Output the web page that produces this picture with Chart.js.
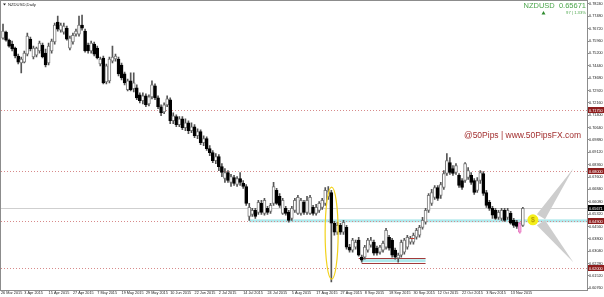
<!DOCTYPE html>
<html>
<head>
<meta charset="utf-8">
<script src="https://cdn.jsdelivr.net/npm/chart.js@4.4.0/dist/chart.umd.min.js"></script>
<style>
  html, body { margin: 0; padding: 0; background: #fff; }
  canvas { display: block; }
</style>
</head>
<body>
<canvas id="nzdChart" width="604" height="297"></canvas>
<script>
// daily NZDUSD bars, 25 Mar 2015 .. 19 Nov 2015
const opens = [
  0.7614, 0.7651, 0.7602, 0.7577, 0.7553, 0.7504, 0.7461, 0.7467, 0.7516, 0.7608,
  0.7498, 0.7510, 0.7535, 0.7571, 0.7522, 0.7461, 0.7535, 0.7590, 0.7712, 0.7663,
  0.7651, 0.7675, 0.7553, 0.7590, 0.7639, 0.7639, 0.7694, 0.7657, 0.7571, 0.7535,
  0.7577, 0.7553, 0.7455, 0.7492, 0.7345, 0.7351, 0.7473, 0.7486, 0.7486, 0.7449,
  0.7394, 0.7297, 0.7351, 0.7303, 0.7309, 0.7265, 0.7229, 0.7259, 0.7210, 0.7253,
  0.7321, 0.7247, 0.7192, 0.7161, 0.7204, 0.7235, 0.7106, 0.7131, 0.7082, 0.7118,
  0.7063, 0.7094, 0.7045, 0.7069, 0.7014, 0.7039, 0.6971, 0.6996, 0.6935, 0.6910,
  0.6861, 0.6886, 0.6824, 0.6751, 0.6788, 0.6727, 0.6757, 0.6714, 0.6751, 0.6721,
  0.6702, 0.6518, 0.6531, 0.6555, 0.6543, 0.6598, 0.6537, 0.6567, 0.6549, 0.6598,
  0.6678, 0.6641, 0.6537, 0.6567, 0.6543, 0.6506, 0.6555, 0.6537, 0.6537, 0.6604,
  0.6543, 0.6537, 0.6574, 0.6537, 0.6555, 0.6574, 0.6598, 0.6641, 0.6665, 0.6476,
  0.6421, 0.6463, 0.6421, 0.6451, 0.6329, 0.6311, 0.6329, 0.6372, 0.6268, 0.6268,
  0.6311, 0.6341, 0.6359, 0.6323, 0.6298, 0.6311, 0.6329, 0.6390, 0.6372, 0.6311,
  0.6262, 0.6280, 0.6298, 0.6329, 0.6359, 0.6359, 0.6390, 0.6402, 0.6451, 0.6482,
  0.6555, 0.6598, 0.6635, 0.6696, 0.6647, 0.6696, 0.6782, 0.6849, 0.6812, 0.6788,
  0.6770, 0.6739, 0.6739, 0.6757, 0.6770, 0.6739, 0.6678, 0.6739, 0.6782, 0.6665,
  0.6604, 0.6567, 0.6555, 0.6512, 0.6506, 0.6555, 0.6512, 0.6537, 0.6494, 0.6482,
  0.6476, 0.6463
];
const highs = [
  0.7700, 0.7657, 0.7608, 0.7596, 0.7559, 0.7516, 0.7498, 0.7535, 0.7645, 0.7620,
  0.7565, 0.7559, 0.7596, 0.7583, 0.7547, 0.7583, 0.7608, 0.7706, 0.7749, 0.7706,
  0.7706, 0.7688, 0.7626, 0.7645, 0.7669, 0.7749, 0.7755, 0.7669, 0.7583, 0.7596,
  0.7590, 0.7565, 0.7498, 0.7504, 0.7455, 0.7498, 0.7565, 0.7516, 0.7498, 0.7461,
  0.7406, 0.7363, 0.7400, 0.7400, 0.7327, 0.7277, 0.7277, 0.7271, 0.7265, 0.7351,
  0.7333, 0.7259, 0.7204, 0.7216, 0.7259, 0.7247, 0.7155, 0.7143, 0.7131, 0.7131,
  0.7118, 0.7106, 0.7094, 0.7082, 0.7057, 0.7051, 0.7014, 0.7008, 0.6953, 0.6923,
  0.6904, 0.6898, 0.6843, 0.6812, 0.6800, 0.6776, 0.6770, 0.6763, 0.6788, 0.6739,
  0.6714, 0.6598, 0.6567, 0.6567, 0.6617, 0.6617, 0.6629, 0.6580, 0.6598, 0.6727,
  0.6690, 0.6659, 0.6629, 0.6580, 0.6555, 0.6580, 0.6629, 0.6647, 0.6629, 0.6617,
  0.6641, 0.6647, 0.6586, 0.6592, 0.6610, 0.6629, 0.6696, 0.6702, 0.6678, 0.6488,
  0.6482, 0.6476, 0.6494, 0.6463, 0.6347, 0.6384, 0.6372, 0.6390, 0.6280, 0.6341,
  0.6384, 0.6390, 0.6372, 0.6335, 0.6341, 0.6366, 0.6445, 0.6402, 0.6384, 0.6323,
  0.6292, 0.6372, 0.6384, 0.6402, 0.6396, 0.6415, 0.6445, 0.6463, 0.6512, 0.6567,
  0.6659, 0.6684, 0.6708, 0.6708, 0.6727, 0.6800, 0.6904, 0.6880, 0.6831, 0.6843,
  0.6782, 0.6751, 0.6849, 0.6818, 0.6788, 0.6751, 0.6757, 0.6800, 0.6794, 0.6678,
  0.6617, 0.6580, 0.6567, 0.6555, 0.6567, 0.6567, 0.6567, 0.6549, 0.6506, 0.6494,
  0.6482, 0.6574
];
const lows = [
  0.7608, 0.7596, 0.7559, 0.7535, 0.7492, 0.7455, 0.7400, 0.7461, 0.7504, 0.7535,
  0.7486, 0.7498, 0.7522, 0.7492, 0.7437, 0.7449, 0.7522, 0.7577, 0.7657, 0.7651,
  0.7639, 0.7602, 0.7541, 0.7577, 0.7626, 0.7626, 0.7663, 0.7528, 0.7522, 0.7522,
  0.7504, 0.7486, 0.7443, 0.7333, 0.7333, 0.7339, 0.7461, 0.7473, 0.7382, 0.7357,
  0.7327, 0.7290, 0.7290, 0.7284, 0.7235, 0.7216, 0.7210, 0.7192, 0.7198, 0.7241,
  0.7235, 0.7180, 0.7137, 0.7149, 0.7192, 0.7088, 0.7088, 0.7069, 0.7069, 0.7051,
  0.7045, 0.7027, 0.7033, 0.7002, 0.6996, 0.6959, 0.6953, 0.6923, 0.6892, 0.6849,
  0.6843, 0.6800, 0.6763, 0.6727, 0.6727, 0.6702, 0.6708, 0.6702, 0.6708, 0.6690,
  0.6586, 0.6494, 0.6518, 0.6506, 0.6531, 0.6531, 0.6525, 0.6531, 0.6537, 0.6586,
  0.6592, 0.6574, 0.6531, 0.6525, 0.6482, 0.6494, 0.6543, 0.6531, 0.6525, 0.6531,
  0.6531, 0.6531, 0.6525, 0.6525, 0.6543, 0.6561, 0.6586, 0.6623, 0.6115, 0.6402,
  0.6408, 0.6408, 0.6408, 0.6317, 0.6298, 0.6298, 0.6317, 0.6274, 0.6237, 0.6255,
  0.6298, 0.6329, 0.6280, 0.6280, 0.6286, 0.6298, 0.6317, 0.6311, 0.6268, 0.6255,
  0.6237, 0.6268, 0.6286, 0.6317, 0.6347, 0.6347, 0.6378, 0.6390, 0.6439, 0.6470,
  0.6543, 0.6586, 0.6623, 0.6617, 0.6629, 0.6684, 0.6770, 0.6776, 0.6770, 0.6776,
  0.6696, 0.6684, 0.6727, 0.6745, 0.6714, 0.6653, 0.6665, 0.6721, 0.6647, 0.6574,
  0.6555, 0.6506, 0.6500, 0.6500, 0.6494, 0.6488, 0.6500, 0.6470, 0.6451, 0.6445,
  0.6415, 0.6457
];
const closes = [
  0.7657, 0.7602, 0.7565, 0.7547, 0.7504, 0.7467, 0.7486, 0.7522, 0.7626, 0.7547,
  0.7553, 0.7553, 0.7583, 0.7498, 0.7449, 0.7565, 0.7596, 0.7694, 0.7669, 0.7694,
  0.7688, 0.7608, 0.7614, 0.7632, 0.7657, 0.7694, 0.7675, 0.7535, 0.7535, 0.7583,
  0.7516, 0.7492, 0.7486, 0.7339, 0.7443, 0.7486, 0.7498, 0.7504, 0.7394, 0.7370,
  0.7339, 0.7351, 0.7297, 0.7339, 0.7247, 0.7229, 0.7259, 0.7204, 0.7253, 0.7327,
  0.7247, 0.7192, 0.7155, 0.7204, 0.7241, 0.7106, 0.7137, 0.7082, 0.7118, 0.7063,
  0.7094, 0.7045, 0.7069, 0.7014, 0.7039, 0.6971, 0.6996, 0.6935, 0.6910, 0.6861,
  0.6886, 0.6824, 0.6788, 0.6788, 0.6739, 0.6763, 0.6721, 0.6751, 0.6727, 0.6702,
  0.6598, 0.6574, 0.6555, 0.6518, 0.6604, 0.6543, 0.6617, 0.6543, 0.6586, 0.6702,
  0.6598, 0.6586, 0.6617, 0.6537, 0.6494, 0.6567, 0.6617, 0.6635, 0.6617, 0.6543,
  0.6617, 0.6635, 0.6537, 0.6574, 0.6598, 0.6617, 0.6678, 0.6671, 0.6476, 0.6421,
  0.6463, 0.6421, 0.6482, 0.6329, 0.6311, 0.6372, 0.6359, 0.6280, 0.6249, 0.6329,
  0.6372, 0.6372, 0.6292, 0.6292, 0.6329, 0.6353, 0.6433, 0.6323, 0.6280, 0.6268,
  0.6280, 0.6359, 0.6372, 0.6390, 0.6384, 0.6402, 0.6433, 0.6451, 0.6494, 0.6555,
  0.6647, 0.6665, 0.6696, 0.6629, 0.6714, 0.6782, 0.6861, 0.6788, 0.6782, 0.6831,
  0.6708, 0.6696, 0.6843, 0.6800, 0.6727, 0.6665, 0.6739, 0.6788, 0.6659, 0.6586,
  0.6567, 0.6525, 0.6506, 0.6543, 0.6555, 0.6494, 0.6555, 0.6476, 0.6463, 0.6457,
  0.6421, 0.65671
];

// axis ticks
const dateTickIdx = [-0.66, 7, 15, 23, 31, 39, 47, 55, 63, 71, 79, 87, 95, 103, 111, 119, 127, 135, 143, 151, 159, 167];
const dateTickText = ['26 Mar 2015', '3 Apr 2015', '15 Apr 2015', '27 Apr 2015', '7 May 2015', '19 May 2015',
  '29 May 2015', '10 Jun 2015', '22 Jun 2015', '2 Jul 2015', '14 Jul 2015', '24 Jul 2015', '5 Aug 2015',
  '17 Aug 2015', '27 Aug 2015', '8 Sep 2015', '18 Sep 2015', '30 Sep 2015', '12 Oct 2015', '22 Oct 2015',
  '3 Nov 2015', '13 Nov 2015'];
const priceTicks = [0.78240, 0.77480, 0.76720, 0.75960, 0.75200, 0.74440, 0.73680, 0.72920, 0.72160, 0.71400,
  0.70640, 0.69880, 0.69120, 0.68360, 0.67600, 0.66840, 0.66080, 0.65320, 0.64560, 0.63800, 0.63040, 0.62280,
  0.61520, 0.60760];

// drawn objects on the chart
const levelLines = [0.71750, 0.68000, 0.64900, 0.62000];
const lastPrice = 0.65671;
const supportBand = { start: 81, lo: 0.6482, hi: 0.6500 };
const lowZoneIdx = [117, 139];
const lowZoneLines = [0.6260, 0.6229];
const lowZoneBand = [0.6237, 0.6255];
const redDash = [134, 135.3, 0.6384];
const ellipseAt = { idx: 108.1, lo: 0.6132, hi: 0.6698 };
const dotAt = [174.3, 0.6497];
const wedgeUp = [[175.6, 0.6531], [178.3, 0.6500], [187.6, 0.6812]];
const wedgeDown = [[175.6, 0.6463], [178.3, 0.6494], [187.6, 0.6237]];
const pinkBar = 170;

Chart.defaults.font.family = "'Liberation Sans', Arial, sans-serif";

const bodyData = opens.map((o, i) => ({ x: i, y: [o, closes[i]] }));
const wickData = lows.map((l, i) => ({ x: i, y: [l, highs[i]] }));

function isBull(i) {
    return closes[i] >= opens[i];
}

const overlayPlugin = {
    id: 'overlayPlugin',
    beforeDatasetsDraw(chart) {
        const { ctx, chartArea: { left, right, top, bottom }, scales: { x, y } } = chart;
        ctx.save();

        // frame
        ctx.strokeStyle = '#8c8c8c';
        ctx.lineWidth = 1;
        ctx.strokeRect(0.5, 0.5, right, bottom);

        // support band
        const by1 = y.getPixelForValue(supportBand.hi);
        const by2 = y.getPixelForValue(supportBand.lo);
        ctx.fillStyle = 'rgba(110, 215, 220, 0.55)';
        ctx.fillRect(x.getPixelForValue(supportBand.start), by1, right - x.getPixelForValue(supportBand.start), by2 - by1);

        // lower zone
        const zx1 = x.getPixelForValue(lowZoneIdx[0]);
        const zx2 = x.getPixelForValue(lowZoneIdx[1]);
        const zb1 = y.getPixelForValue(lowZoneBand[1]);
        const zb2 = y.getPixelForValue(lowZoneBand[0]);
        ctx.fillRect(zx1 + 3, zb1, zx2 - zx1 - 3, zb2 - zb1);
        ctx.strokeStyle = '#a33a3a';
        lowZoneLines.forEach((v, k) => {
            const py = Math.round(y.getPixelForValue(v)) + 0.5;
            ctx.beginPath();
            ctx.moveTo(zx1 + (k ? 3 : 0), py);
            ctx.lineTo(zx2, py);
            ctx.stroke();
        });

        // bid line
        ctx.strokeStyle = '#cfcfcf';
        const bidY = Math.round(y.getPixelForValue(lastPrice)) + 0.5;
        ctx.beginPath();
        ctx.moveTo(left, bidY);
        ctx.lineTo(right, bidY);
        ctx.stroke();

        // dotted levels
        ctx.strokeStyle = '#d78a8a';
        ctx.setLineDash([1, 2]);
        levelLines.forEach(v => {
            const py = Math.round(y.getPixelForValue(v)) + 0.5;
            ctx.beginPath();
            ctx.moveTo(left, py);
            ctx.lineTo(right, py);
            ctx.stroke();
        });
        ctx.setLineDash([]);
        ctx.restore();
    },
    afterDatasetsDraw(chart) {
        const { ctx, chartArea: { left, right, top, bottom }, scales: { x, y } } = chart;
        ctx.save();

        // small red mark
        ctx.strokeStyle = '#c0392b';
        const ry = Math.round(y.getPixelForValue(redDash[2])) + 0.5;
        ctx.beginPath();
        ctx.moveTo(x.getPixelForValue(redDash[0]), ry);
        ctx.lineTo(x.getPixelForValue(redDash[1]), ry);
        ctx.stroke();

        // ellipse round the 24 Aug spike
        const ey1 = y.getPixelForValue(ellipseAt.hi);
        const ey2 = y.getPixelForValue(ellipseAt.lo);
        ctx.strokeStyle = '#f2d21b';
        ctx.lineWidth = 1.2;
        ctx.beginPath();
        ctx.ellipse(x.getPixelForValue(ellipseAt.idx), (ey1 + ey2) / 2, 6.5, (ey2 - ey1) / 2, 0, 0, Math.PI * 2);
        ctx.stroke();

        // grey chevron
        ctx.fillStyle = '#cdcdcd';
        [wedgeUp, wedgeDown].forEach(pts => {
            ctx.beginPath();
            pts.forEach((p, k) => {
                const px = x.getPixelForValue(p[0]);
                const py = y.getPixelForValue(p[1]);
                if (k === 0) ctx.moveTo(px, py); else ctx.lineTo(px, py);
            });
            ctx.closePath();
            ctx.fill();
        });

        // yellow marker
        const dx = x.getPixelForValue(dotAt[0]);
        const dy = y.getPixelForValue(dotAt[1]);
        ctx.fillStyle = '#f4ee1a';
        ctx.beginPath();
        ctx.arc(dx, dy, 5.5, 0, Math.PI * 2);
        ctx.fill();
        ctx.fillStyle = '#b8a000';
        ctx.font = 'bold 7px Arial';
        ctx.textAlign = 'center';
        ctx.textBaseline = 'middle';
        ctx.fillText('$', dx, dy + 0.5);

        // watermark
        ctx.fillStyle = '#a33030';
        ctx.font = '8.5px Arial';
        ctx.textAlign = 'left';
        ctx.fillText('@50Pips | www.50PipsFX.com', 464, 135.5);

        // title
        ctx.fillStyle = '#222';
        ctx.beginPath();
        ctx.moveTo(3, 3.5);
        ctx.lineTo(6, 3.5);
        ctx.lineTo(4.5, 5.5);
        ctx.closePath();
        ctx.fill();
        ctx.font = '4.2px Arial';
        ctx.fillText('NZDUSD,Daily', 8, 5);

        // symbol box top right
        ctx.fillStyle = '#4da64d';
        ctx.font = '7.5px Arial';
        ctx.textAlign = 'right';
        ctx.fillText('NZDUSD  ' + lastPrice.toFixed(5), 586, 5.5);
        ctx.font = '4.2px Arial';
        ctx.fillText('97 | 1.33%', 586, 13);
        ctx.fillStyle = '#2e8b2e';
        ctx.beginPath();
        ctx.moveTo(541.5, 14.5);
        ctx.lineTo(545.5, 14.5);
        ctx.lineTo(543.5, 11);
        ctx.closePath();
        ctx.fill();
        ctx.restore();
    },
    afterDraw(chart) {
        const { ctx, chartArea: { right }, scales: { y } } = chart;
        ctx.save();
        ctx.font = '3.8px Arial';
        ctx.textBaseline = 'middle';
        ctx.textAlign = 'left';
        const tag = (v, fill) => {
            const py = Math.round(y.getPixelForValue(v));
            ctx.fillStyle = fill;
            ctx.fillRect(right + 1, py - 3, 604 - right - 1, 6);
            ctx.fillStyle = '#fff';
            ctx.fillText(v.toFixed(5), right + 2, py + 0.5);
        };
        levelLines.forEach(v => tag(v, '#8e1d1d'));
        tag(lastPrice, '#000');
        ctx.restore();
    }
};

const chart = new Chart(document.getElementById('nzdChart'), {
    type: 'bar',
    data: {
        datasets: [{
            label: 'body',
            data: bodyData,
            order: 0,
            grouped: false,
            barThickness: 3,
            minBarLength: 1,
            borderWidth: 1,
            borderSkipped: false,
            backgroundColor: c => c.dataIndex === pinkBar ? '#f4a6d7' : (isBull(c.dataIndex) ? '#ffffff' : '#000000'),
            borderColor: c => c.dataIndex === pinkBar ? '#e77fc4' : (isBull(c.dataIndex) ? '#7a7a7a' : '#000000')
        }, {
            label: 'wick',
            data: wickData,
            order: 1,
            grouped: false,
            barThickness: 1,
            backgroundColor: c => c.dataIndex === pinkBar ? '#e77fc4' : '#555555'
        }]
    },
    options: {
        responsive: false,
        animation: false,
        events: [],
        devicePixelRatio: 1,
        layout: { padding: { left: 1, top: 1 } },
        plugins: {
            legend: { display: false },
            tooltip: { enabled: false }
        },
        scales: {
            x: {
                type: 'linear',
                min: -0.66,
                max: 192.1,
                offset: false,
                border: { display: false },
                grid: { display: true, drawOnChartArea: false, offset: false, tickLength: 1, color: '#888' },
                ticks: {
                    autoSkip: false,
                    maxRotation: 0,
                    align: 'start',
                    padding: 0,
                    color: '#222',
                    font: { size: 3.8 },
                    callback: value => dateTickText[dateTickIdx.indexOf(value)] || ''
                },
                afterBuildTicks: scale => {
                    scale.ticks = dateTickIdx.map(v => ({ value: v }));
                },
                afterFit: scale => {
                    scale.height = 7;
                }
            },
            y: {
                position: 'right',
                min: 0.60657,
                max: 0.78344,
                border: { display: false },
                grid: { drawOnChartArea: false, tickLength: 2, color: '#888' },
                ticks: {
                    autoSkip: false,
                    crossAlign: 'near',
                    padding: 0,
                    color: '#222',
                    font: { size: 3.8 },
                    callback: v => v.toFixed(5)
                },
                afterBuildTicks: scale => {
                    scale.ticks = priceTicks.map(v => ({ value: v }));
                },
                afterFit: scale => {
                    scale.height = undefined;
                    scale.width = 17;
                }
            }
        }
    },
    plugins: [overlayPlugin]
});
</script>
</body>
</html>
